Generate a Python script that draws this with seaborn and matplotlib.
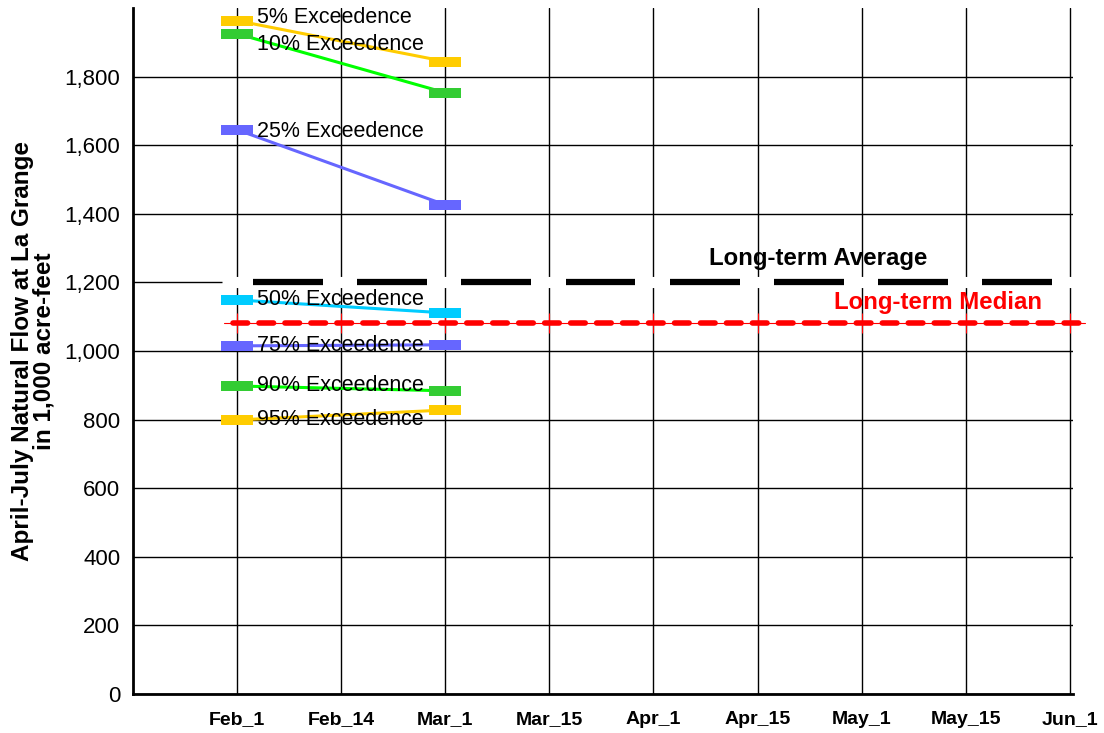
import matplotlib
matplotlib.use("Agg")
import matplotlib.pyplot as plt
import seaborn as sns
import pandas as pd

# ---- data ----
dates = ["Feb_1", "Feb_14", "Mar_1", "Mar_15", "Apr_1", "Apr_15", "May_1", "May_15", "Jun_1"]
forecast_dates = ["Feb_1", "Mar_1"]
exc_5 = [1963, 1844]
exc_10 = [1925, 1753]
exc_25 = [1645, 1426]
exc_50 = [1149, 1111]
exc_75 = [1015, 1018]
exc_90 = [898, 884]
exc_95 = [799, 828]
long_term_average = 1200
long_term_median = 1082
y_ticks = [0, 200, 400, 600, 800, 1000, 1200, 1400, 1600, 1800]

series = [
    ("5% Exceedence", exc_5, "#FFCC00", "#FFCC00", 2),
    ("10% Exceedence", exc_10, "#00FF00", "#33CC33", -8),
    ("25% Exceedence", exc_25, "#6666FF", "#6666FF", -1),
    ("50% Exceedence", exc_50, "#00CCFF", "#00CCFF", 0),
    ("75% Exceedence", exc_75, "#6666FF", "#6666FF", 0),
    ("90% Exceedence", exc_90, "#00FF00", "#33CC33", 0),
    ("95% Exceedence", exc_95, "#FFCC00", "#FFCC00", 0),
]

sns.set_theme(style="white")
plt.rcParams["font.family"] = ["Liberation Sans", "DejaVu Sans"]
plt.rcParams["lines.scale_dashes"] = False
plt.rcParams["text.color"] = "black"
plt.rcParams["axes.labelcolor"] = "black"
plt.rcParams["xtick.color"] = "black"
plt.rcParams["ytick.color"] = "black"

fig = plt.figure(figsize=(11.04, 7.33), dpi=100)
ax = fig.add_axes([133 / 1104, 39 / 733, (1073 - 133) / 1104, (694 - 8) / 733])

pos = {d: i for i, d in enumerate(dates)}
xf = [pos[d] for d in forecast_dates]

rect = [(-1, -0.32), (1, -0.32), (1, 0.32), (-1, 0.32), (-1, -0.32)]

for name, vals, lc, mc, dy in series:
    df = pd.DataFrame({"x": xf, "y": vals})
    sns.lineplot(data=df, x="x", y="y", ax=ax, color=lc, linewidth=2.2,
                 marker=rect, markersize=23, markerfacecolor=mc,
                 markeredgewidth=0, zorder=4)
    ax.annotate(name, xy=(xf[0], vals[0]), xytext=(14.5, dy),
                textcoords="offset points", ha="left", va="center",
                fontsize=15.5, color="black", zorder=6)

# long-term average: white band + black dashes between categories
n = len(dates)
ax.plot([-0.145, n - 1 + 0.03], [long_term_average] * 2, color="white",
        linewidth=8, solid_capstyle="butt", zorder=3)
for i in range(n - 1):
    ax.plot([i + 0.155, i + 0.827], [long_term_average] * 2, color="black",
            linewidth=4.5, solid_capstyle="butt", zorder=3.5)
ax.text(5.58, long_term_average + 70, "Long-term Average", ha="center",
        va="center", fontsize=17.3, fontweight="bold", color="black", zorder=6)

# long-term median
xs = list(range(n))
ax.plot([-0.13, n - 1 + 0.15], [long_term_median] * 2, color="red",
        linewidth=0.8, clip_on=False, zorder=3)
ax.plot(xs, [long_term_median] * n, linestyle="none", marker="|",
        markersize=15, markeredgewidth=0.8, color="red", zorder=3)
ax.plot([-0.04, n - 1 + 0.12], [long_term_median] * 2, color="red",
        linewidth=4, dashes=(10.5, 8.2), dash_capstyle="round",
        clip_on=False, zorder=3.2)
ax.text(6.73, long_term_median + 60, "Long-term Median", ha="center",
        va="center", fontsize=17.3, fontweight="bold", color="red", zorder=6)

# axes
ax.set_xlim(-1.0, n - 1 + 0.03)
ax.set_ylim(0, 2000)
ax.set_xticks(xs)
ax.set_xticklabels(dates, fontsize=14, fontweight="bold")
ax.set_yticks(y_ticks)
ax.set_yticklabels([f"{v:,}" for v in y_ticks], fontsize=16)
ax.tick_params(axis="x", length=0, pad=12)
ax.tick_params(axis="y", length=0, pad=9)
ax.grid(True, color="black", linewidth=1)
ax.set_axisbelow(True)
ax.set_xlabel("")
ax.set_ylabel("April-July Natural Flow at La Grange\nin 1,000 acre-feet",
              fontsize=17.5, fontweight="bold", linespacing=0.92)
ax.yaxis.set_label_coords(-0.082, 0.5)
for s in ["top", "right"]:
    ax.spines[s].set_visible(False)
for s in ["left", "bottom"]:
    ax.spines[s].set_color("black")
    ax.spines[s].set_linewidth(2)

fig.savefig("out.png", dpi=100)
